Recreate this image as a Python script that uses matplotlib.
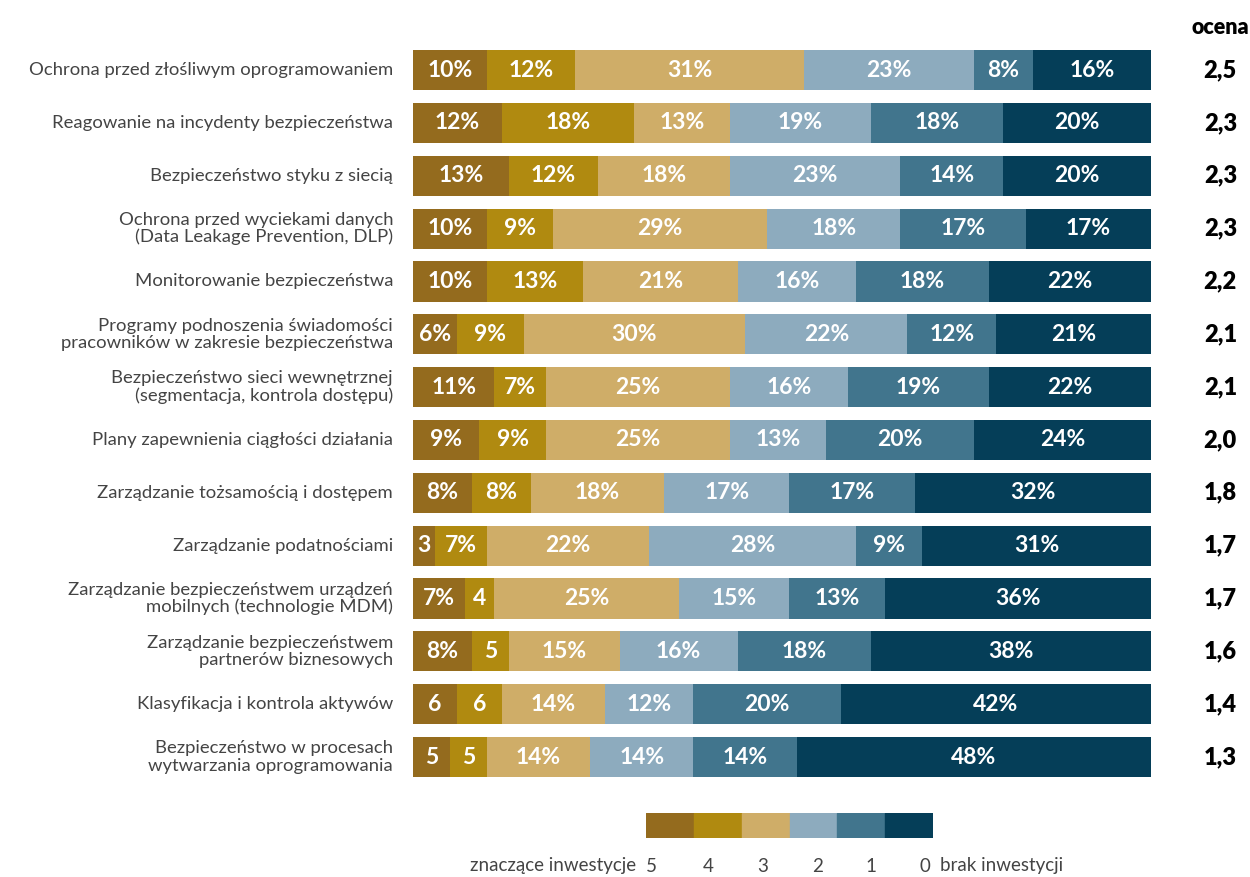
import matplotlib.pyplot as plt
from matplotlib.patches import Rectangle

categories = [
    "Ochrona przed złośliwym oprogramowaniem",
    "Reagowanie na incydenty bezpieczeństwa",
    "Bezpieczeństwo styku z siecią",
    "Ochrona przed wyciekami danych\n(Data Leakage Prevention, DLP)",
    "Monitorowanie bezpieczeństwa",
    "Programy podnoszenia świadomości\npracowników w zakresie bezpieczeństwa",
    "Bezpieczeństwo sieci wewnętrznej\n(segmentacja, kontrola dostępu)",
    "Plany zapewnienia ciągłości działania",
    "Zarządzanie tożsamością i dostępem",
    "Zarządzanie podatnościami",
    "Zarządzanie bezpieczeństwem urządzeń\nmobilnych (technologie MDM)",
    "Zarządzanie bezpieczeństwem\npartnerów biznesowych",
    "Klasyfikacja i kontrola aktywów",
    "Bezpieczeństwo w procesach\nwytwarzania oprogramowania",
]

# udział odpowiedzi dla ocen 5..0
s5 = [10, 12, 13, 10, 10, 6, 11, 9, 8, 3, 7, 8, 6, 5]
s4 = [12, 18, 12, 9, 13, 9, 7, 9, 8, 7, 4, 5, 6, 5]
s3 = [31, 13, 18, 29, 21, 30, 25, 25, 18, 22, 25, 15, 14, 14]
s2 = [23, 19, 23, 18, 16, 22, 16, 13, 17, 28, 15, 16, 12, 14]
s1 = [8, 18, 14, 17, 18, 12, 19, 20, 17, 9, 13, 18, 20, 14]
s0 = [16, 20, 20, 17, 22, 21, 22, 24, 32, 31, 36, 38, 42, 48]
ratings = ["2,5", "2,3", "2,3", "2,3", "2,2", "2,1", "2,1", "2,0",
           "1,8", "1,7", "1,7", "1,6", "1,4", "1,3"]
legend_labels = ["5", "4", "3", "2", "1", "0"]

# komórki podpisane bez znaku %
no_pct = {(9, 0), (10, 1), (11, 1), (12, 0), (12, 1), (13, 0), (13, 1)}

colors = ["#946B1E", "#B08A10", "#CFAD68", "#8DABBE", "#41758D", "#053E58"]
series = [s5, s4, s3, s2, s1, s0]
txt_col = "#444444"

fig = plt.figure(figsize=(12.5, 8.77), dpi=100)
ax = fig.add_axes([0.3304, 0.1067, 0.5904, 0.8435])

left = [0] * len(categories)
for j, (vals, col) in enumerate(zip(series, colors)):
    ax.barh(range(len(categories)), vals, left=left, color=col, height=0.76)
    for i, v in enumerate(vals):
        txt = f"{v}" if (i, j) in no_pct else f"{v}%"
        ax.text(left[i] + v / 2, i, txt, ha="center", va="center",
                color="white", fontsize=16.5, fontweight="bold", family="Lato")
    left = [a + b for a, b in zip(left, vals)]

ax.set_xlim(0, 100)
ax.set_ylim(len(categories) - 0.5, -0.5)
ax.axis("off")

for i, (cat, r) in enumerate(zip(categories, ratings)):
    ax.text(-2.7, i, cat, ha="right", va="center", fontsize=13.3,
            family="Lato", color=txt_col, linespacing=1.08)
    ax.text(109.4, i, r, ha="center", va="center", fontsize=17,
            family="Lato", fontweight="heavy", color="black")

fig.text(1220 / 1250, 1 - 27 / 877, "ocena", ha="center", va="center",
         fontsize=15.5, family="Lato", fontweight="heavy")

# legenda
lax = fig.add_axes([646 / 1250, 1 - 838 / 877, 287 / 1250, 25 / 877])
for k, col in enumerate(colors):
    lax.add_patch(Rectangle((k, 0), 1, 1, color=col))
lax.set_xlim(0, 6)
lax.set_ylim(0, 1)
lax.axis("off")

num_x = [651, 708, 763, 818, 871, 925]
for x, lab in zip(num_x, legend_labels):
    fig.text(x / 1250, 1 - 866 / 877, lab, ha="center", va="center",
             fontsize=13.5, family="Lato", color=txt_col)
fig.text(636 / 1250, 1 - 866 / 877, "znaczące inwestycje", ha="right", va="center",
         fontsize=13.5, family="Lato", color=txt_col)
fig.text(940 / 1250, 1 - 866 / 877, "brak inwestycji", ha="left", va="center",
         fontsize=13.5, family="Lato", color=txt_col)

fig.savefig("out.png", dpi=100)
